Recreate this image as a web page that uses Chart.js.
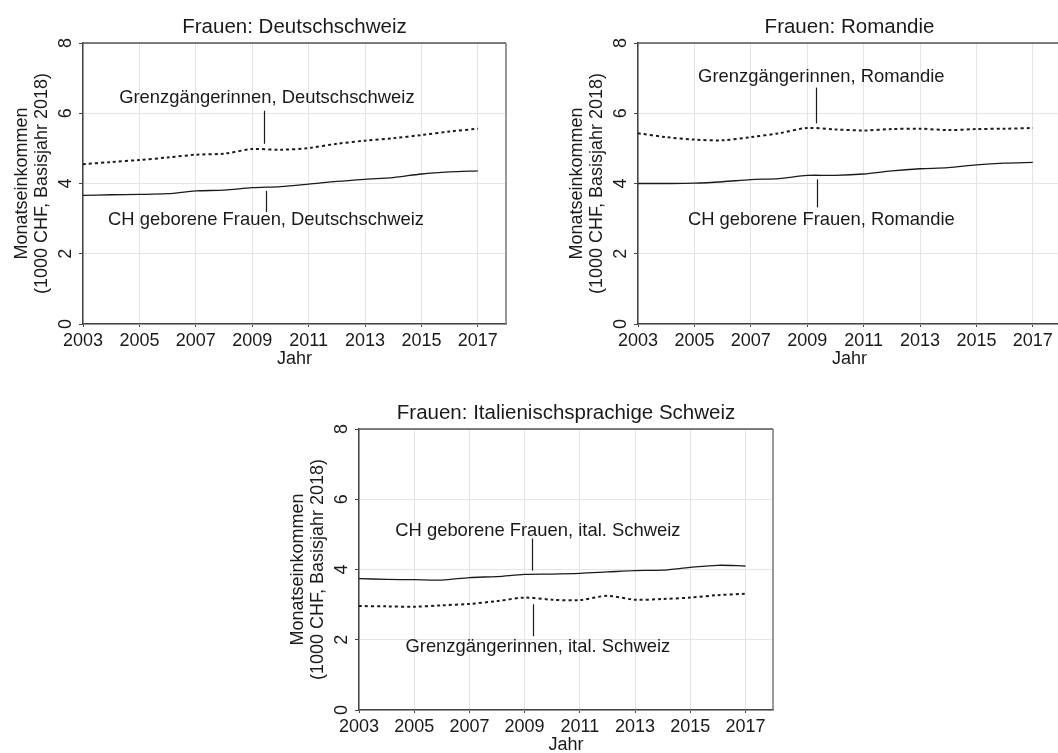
<!DOCTYPE html>
<html>
<head>
<meta charset="utf-8">
<script src="https://cdn.jsdelivr.net/npm/chart.js@4"></script>
<style>
    html, body { margin: 0; padding: 0; background: #fff; overflow: hidden; }
    body { width: 1058px; height: 753px; position: relative; }
    .panel { position: absolute; }
    #p1 { left: 0; top: 0; width: 516px; height: 376px; }
    #p2 { left: 555px; top: 0; width: 516px; height: 376px; }
    #p3 { left: 276px; top: 386px; width: 507px; height: 376px; }
</style>
</head>
<body>
<div class="panel" id="p1"><canvas id="c1"></canvas></div>
<div class="panel" id="p2"><canvas id="c2"></canvas></div>
<div class="panel" id="p3"><canvas id="c3"></canvas></div>
<script>
// Data (monthly income, 1000 CHF, base year 2018)
const years = [2003, 2004, 2005, 2006, 2007, 2008, 2009, 2010, 2011, 2012, 2013, 2014, 2015, 2016, 2017];
const xTicks = [2003, 2005, 2007, 2009, 2011, 2013, 2015, 2017];
const yTicks = [0, 2, 4, 6, 8];

const deCH    = [3.66, 3.68, 3.69, 3.71, 3.79, 3.81, 3.88, 3.91, 3.98, 4.06, 4.12, 4.17, 4.27, 4.33, 4.36];
const deGrenz = [4.55, 4.61, 4.67, 4.74, 4.82, 4.85, 4.98, 4.96, 5.01, 5.13, 5.22, 5.29, 5.38, 5.48, 5.56];
const roCH    = [4.00, 4.00, 4.01, 4.05, 4.11, 4.14, 4.23, 4.23, 4.27, 4.36, 4.42, 4.45, 4.53, 4.58, 4.60];
const roGrenz = [5.43, 5.32, 5.25, 5.23, 5.32, 5.43, 5.58, 5.54, 5.51, 5.55, 5.56, 5.52, 5.55, 5.56, 5.58];
const itCH    = [3.74, 3.72, 3.71, 3.70, 3.77, 3.80, 3.86, 3.87, 3.89, 3.93, 3.97, 3.98, 4.06, 4.12, 4.10];
const itGrenz = [2.96, 2.95, 2.94, 2.98, 3.02, 3.10, 3.20, 3.14, 3.13, 3.25, 3.14, 3.16, 3.20, 3.27, 3.31];

const FONT = '"Liberation Sans", Arial, sans-serif';
const INK = '#1a1a1a';
Chart.defaults.font.family = FONT;
Chart.defaults.color = INK;

// top/right frame, rotated y tick labels and line labels with leader lines
const framePlugin = {
    id: 'frame',
    afterDraw(chart, args, opts) {
        const { ctx, chartArea: a, scales: { x, y } } = chart;
        ctx.save();
        ctx.lineWidth = 1.5;
        ctx.strokeStyle = '#555';
        ctx.beginPath();
        ctx.moveTo(a.left, a.top);
        ctx.lineTo(a.right, a.top);
        ctx.stroke();
        ctx.strokeStyle = '#777';
        ctx.beginPath();
        ctx.moveTo(a.right, a.top);
        ctx.lineTo(a.right, a.bottom);
        ctx.stroke();

        ctx.fillStyle = INK;
        ctx.font = '18px ' + FONT;
        ctx.textAlign = 'center';
        ctx.textBaseline = 'middle';
        yTicks.forEach(v => {
            ctx.save();
            ctx.translate(a.left - 17, y.getPixelForValue(v));
            ctx.rotate(-Math.PI / 2);
            ctx.fillText(String(v), 0, 0);
            ctx.restore();
        });

        ctx.font = '18.4px ' + FONT;
        (opts.labels || []).forEach(l => {
            ctx.fillText(l.text, x.getPixelForValue(l.x), y.getPixelForValue(l.y));
            const lx = Math.round(x.getPixelForValue(l.lineX)) + 0.5;
            ctx.strokeStyle = INK;
            ctx.lineWidth = 1.2;
            ctx.beginPath();
            ctx.moveTo(lx, y.getPixelForValue(l.from));
            ctx.lineTo(lx, y.getPixelForValue(l.to));
            ctx.stroke();
        });
        ctx.restore();
    }
};

function series(values) {
    return years.map((yr, i) => ({ x: yr, y: values[i] }));
}

function makeChart(id, title, solid, dotted, labels) {
    new Chart(document.getElementById(id), {
        type: 'line',
        data: {
            datasets: [
                { data: series(solid), borderColor: INK, borderWidth: 1.3, pointRadius: 0, tension: 0.3 },
                { data: series(dotted), borderColor: INK, borderWidth: 2, borderDash: [3, 3], pointRadius: 0, tension: 0.3 }
            ]
        },
        options: {
            responsive: true,
            maintainAspectRatio: false,
            animation: false,
            layout: { padding: { left: 0, right: 10, top: 0, bottom: 2 } },
            plugins: {
                legend: { display: false },
                tooltip: { enabled: false },
                title: {
                    display: true,
                    text: title,
                    fullSize: false,
                    color: INK,
                    font: { size: 20.5, weight: 'normal', lineHeight: 1.2 },
                    padding: { top: 15, bottom: 3.4 }
                },
                frame: { labels: labels }
            },
            scales: {
                x: {
                    type: 'linear',
                    min: 2003,
                    max: 2018,
                    afterBuildTicks: s => { s.ticks = xTicks.map(v => ({ value: v })); },
                    afterFit: s => { s.height = 50; },
                    grid: { color: '#e4e4e4', tickColor: '#444', tickLength: 3 },
                    border: { color: '#444', width: 1.5 },
                    ticks: { font: { size: 18 }, padding: 3, maxRotation: 0, callback: v => String(v) },
                    title: { display: true, text: 'Jahr', font: { size: 18 }, padding: { top: 0, bottom: 4 } }
                },
                y: {
                    min: 0,
                    max: 8,
                    afterBuildTicks: s => { s.ticks = yTicks.map(v => ({ value: v })); },
                    afterFit: s => { s.width = 83; },
                    grid: { color: '#e4e4e4', tickColor: '#444', tickLength: 4 },
                    border: { color: '#444', width: 1.5 },
                    ticks: { display: false },
                    title: {
                        display: true,
                        text: ['Monatseinkommen', '(1000 CHF, Basisjahr 2018)'],
                        font: { size: 18, lineHeight: 1.1 },
                        padding: { top: 12, bottom: 0 }
                    }
                }
            }
        },
        plugins: [framePlugin]
    });
}

makeChart('c1', 'Frauen: Deutschschweiz', deCH, deGrenz, [
    { text: 'Grenzgängerinnen, Deutschschweiz', x: 2009.52, y: 6.43, lineX: 2009.42, from: 6.07, to: 5.13 },
    { text: 'CH geborene Frauen, Deutschschweiz', x: 2009.49, y: 2.96, lineX: 2009.5, from: 3.79, to: 3.19 }
]);

makeChart('c2', 'Frauen: Romandie', roCH, roGrenz, [
    { text: 'Grenzgängerinnen, Romandie', x: 2009.5, y: 7.03, lineX: 2009.32, from: 6.73, to: 5.71 },
    { text: 'CH geborene Frauen, Romandie', x: 2009.5, y: 2.96, lineX: 2009.34, from: 4.12, to: 3.32 }
]);

makeChart('c3', 'Frauen: Italienischsprachige Schweiz', itCH, itGrenz, [
    { text: 'CH geborene Frauen, ital. Schweiz', x: 2009.48, y: 5.11, lineX: 2009.26, from: 4.88, to: 3.97 },
    { text: 'Grenzgängerinnen, ital. Schweiz', x: 2009.48, y: 1.79, lineX: 2009.3, from: 3.01, to: 2.10 }
]);
</script>
</body>
</html>
